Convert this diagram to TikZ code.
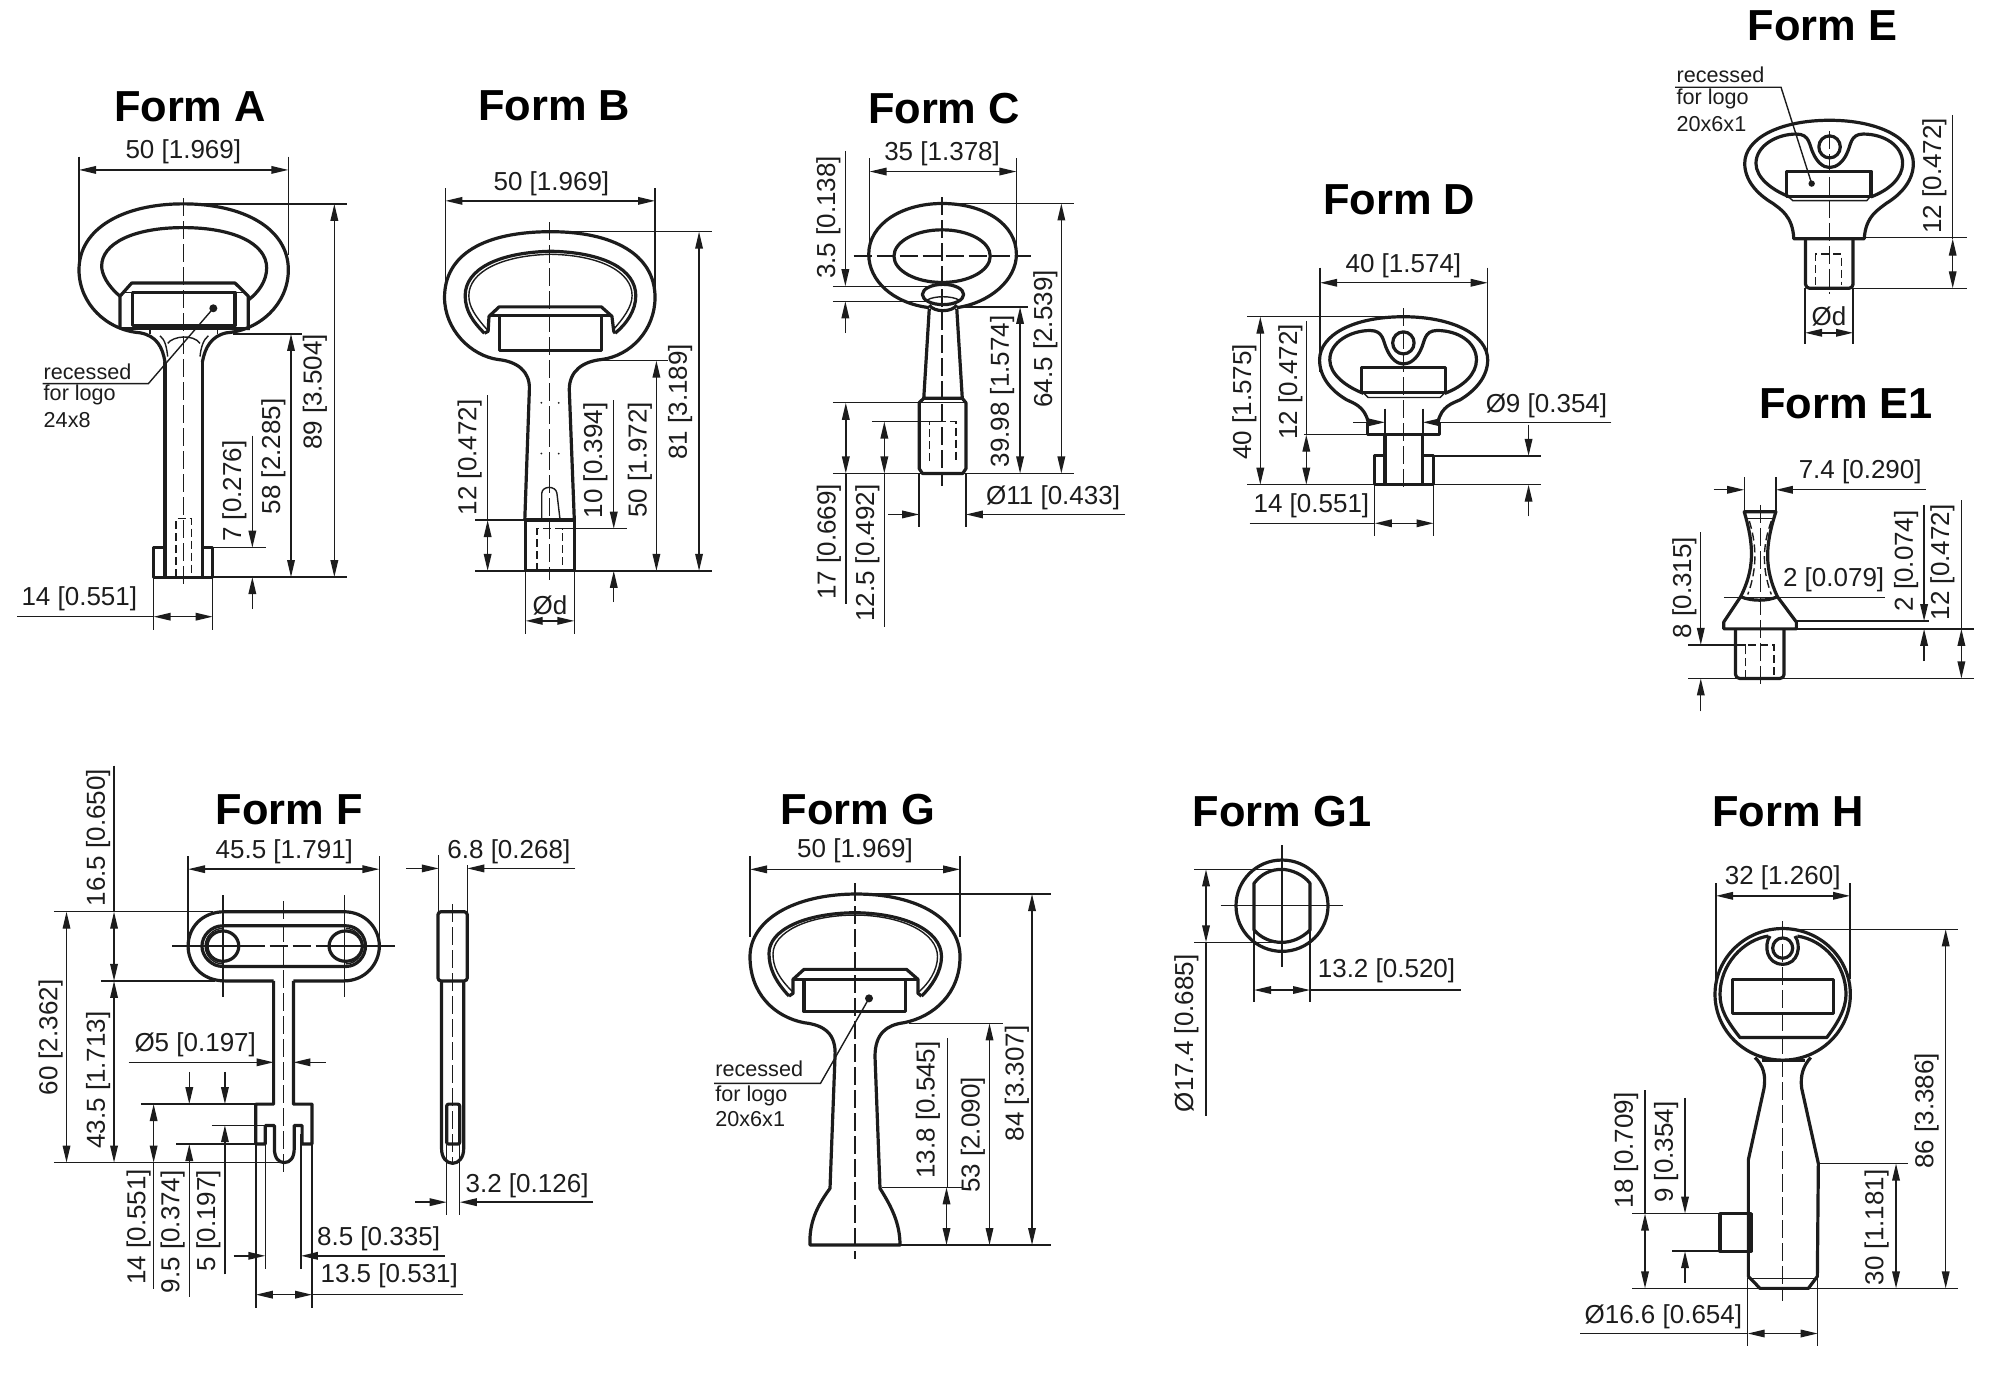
\documentclass[tikz,border=0pt]{standalone}
\usepackage{fontspec}
\setmainfont{Liberation Sans}
\usetikzlibrary{arrows.meta}
\definecolor{inkline}{HTML}{1C1C1C}
\tikzset{
  keyline/.style={line width=1.6pt,draw=inkline,line join=round},
  thinline/.style={line width=0.7pt,draw=inkline},
  dimline/.style={thinline,<->},
  dimend/.style={thinline,->},
  axisline/.style={thinline,dash pattern=on 9pt off 2.5pt},
  hiddenline/.style={thinline,dash pattern=on 4pt off 2pt},
  formtitle/.style={font=\fontsize{21.7}{24}\selectfont\bfseries,text=black,inner sep=0pt},
  dimtext/.style={font=\fontsize{13}{15}\selectfont,text=inkline,inner sep=0pt},
  dimvert/.style={dimtext,rotate=90},
  notetext/.style={font=\fontsize{10.8}{12}\selectfont,text=inkline,inner sep=0pt,anchor=west},
  >={Triangle[length=8.5pt,width=3.8pt]}
}
\begin{document}
\begin{tikzpicture}[x=0.5pt,y=-0.5pt]
\useasboundingbox (0,0) rectangle (2000,1373);

% Form A
\begin{scope}[x=0.16667pt,y=-0.1885pt,shift={(0pt,-35pt)}]
  \node[formtitle] (formA) at (570,98) {Form A};
  \draw[keyline] (495,775) .. controls (488,735) and (470,705) .. (420,697) .. controls (320,690) and (237,620) .. (237,530) .. controls (237,420) and (370,355) .. (550,355) .. controls (730,355) and (865,420) .. (865,530) .. controls (865,620) and (780,690) .. (680,697) .. controls (635,705) and (615,735) .. (607,775);
  \draw[keyline] (360,600) .. controls (320,570) and (305,540) .. (305,520) .. controls (305,460) and (400,418) .. (550,418) .. controls (700,418) and (800,460) .. (800,525) .. controls (800,560) and (775,590) .. (745,610);
  \draw[keyline] (360,685) -- (360,600) -- (395,565) -- (705,565) -- (745,600) -- (745,690);
  \draw[thinline] (370,590) -- (735,590);
  \draw[keyline] (397,590) rectangle (705,678);
  \draw[keyline] (360,685) -- (745,685);
  \draw[thinline] (450,680) -- (450,700) (652,680) -- (652,700);
  \draw[thinline] (503,725) .. controls (520,705) and (580,700) .. (600,725);
  \draw[thinline] (480,705) .. controls (495,715) and (500,735) .. (503,760);
  \draw[thinline] (625,705) .. controls (610,715) and (603,735) .. (600,760);
  \draw[keyline] (495,775) -- (495,1345) (607,775) -- (607,1345);
  \draw[keyline] (495,1267) -- (461,1267) -- (461,1345) -- (638,1345) -- (638,1267) -- (607,1267);
  \draw[hiddenline] (528,1345) -- (528,1190) -- (575,1190) -- (575,1345);
  \draw[axisline] (550,340) -- (550,1365);
  \fill[inkline] (640,632) circle [radius=2pt];
  \draw[thinline] (640,632) -- (445,832) -- (128,832);
  \node[notetext] (noteAa) at (130,800) {recessed};
  \node[notetext] (noteAb) at (130,862) {for logo};
  \node[notetext] (noteAc) at (130,928) {24x8};
  % dimensions
  \draw[thinline] (237,230) -- (237,530) (865,230) -- (865,490);
  \draw[dimline] (237,265) -- (865,265);
  \node[dimtext] (a50) at (550,218) {50 [1.969]};
  \draw[thinline] (550,355) -- (1042,355) (460,1345) -- (1042,1345) (700,700) -- (905,700) (638,1267) -- (797,1267);
  \draw[dimline] (1003,355) -- (1003,1345);
  \node[dimvert] (a89) at (945,854) {89 [3.504]};
  \draw[dimline] (873,700) -- (873,1345);
  \node[dimvert] (a58) at (820,1025) {58 [2.285]};
  \draw[dimend] (757,970) -- (757,1267);
  \draw[dimend] (757,1430) -- (757,1345);
  \node[dimvert] (a7) at (703,1117) {7 [0.276]};
  \draw[thinline] (461,1345) -- (461,1485) (638,1345) -- (638,1485) (52,1450) -- (461,1450);
  \draw[dimline] (461,1450) -- (638,1450);
  \node[dimtext] (a14) at (238,1403) {14 [0.551]};
\end{scope}

% Form B and Form C
\begin{scope}[x=0.2293pt,y=-0.188pt,shift={(214.7pt,-35pt)}]
  \node[formtitle] (formB) at (272,95) {Form B};
  \draw[keyline] (208,1197) -- (218,850) .. controls (220,800) and (190,775) .. (150,770) .. controls (90,760) and (33,690) .. (33,605) .. controls (33,490) and (120,430) .. (265,430) .. controls (400,430) and (492,490) .. (492,605) .. controls (492,690) and (440,760) .. (375,770) .. controls (335,775) and (305,800) .. (305,850) -- (316,1197);
  \draw[keyline] (210,1197) rectangle (316,1332);
  \draw[keyline] (120,700) .. controls (95,670) and (78,640) .. (78,600) .. controls (78,530) and (150,485) .. (265,482) .. controls (380,485) and (450,530) .. (450,600) .. controls (450,640) and (430,675) .. (405,700);
  \draw[thinline] (127,692) .. controls (100,655) and (86,630) .. (86,600) .. controls (86,538) and (155,493) .. (265,490) .. controls (375,493) and (442,538) .. (442,600) .. controls (442,630) and (422,662) .. (400,692);
  \draw[keyline] (120,700) -- (128,695) -- (130,655) -- (152,630) -- (375,630) -- (398,655) -- (402,695) -- (405,700);
  \draw[keyline] (130,652) -- (398,652);
  \draw[keyline] (153,652) rectangle (375,745);
  \draw[thinline] (245,1197) -- (245,1125) .. controls (247,1105) and (275,1105) .. (278,1125) -- (285,1197);
  \draw[hiddenline] (235,1332) -- (235,1220) -- (290,1220) -- (290,1332);
  \draw[axisline] (262,405) -- (262,1355);
  \fill[inkline] (244,885) circle [radius=0.5pt] (282,885) circle [radius=0.5pt] (244,1020) circle [radius=0.5pt] (282,1020) circle [radius=0.5pt];
  % dimensions
  \draw[thinline] (35,315) -- (35,600) (492,315) -- (492,590);
  \draw[dimline] (35,348) -- (492,348);
  \node[dimtext] (b50) at (266,303) {50 [1.969]};
  \draw[thinline] (262,430) -- (617,430) (100,1332) -- (617,1332) (380,773) -- (520,773) (285,1220) -- (430,1220) (100,1197) -- (317,1197) (127,865) -- (127,1197);
  \draw[dimline] (588,430) -- (588,1332);
  \node[dimvert] (b81) at (547,882) {81 [3.189]};
  \draw[dimline] (495,773) -- (495,1332);
  \node[dimvert] (b50b) at (459,1037) {50 [1.972]};
  \draw[dimend] (402,878) -- (402,1220);
  \draw[dimend] (402,1415) -- (402,1332);
  \node[dimvert] (b10) at (362,1038) {10 [0.394]};
  \draw[dimline] (127,1197) -- (127,1332);
  \node[dimvert] (b12) at (88,1030) {12 [0.472]};
  \draw[thinline] (210,1332) -- (210,1500) (316,1332) -- (316,1500);
  \draw[dimline] (210,1465) -- (316,1465);
  \node[dimtext] (bd) at (263,1424) {Ød};

  \node[formtitle] (formC) at (1122,103) {Form C};
  \draw[keyline] (1090,632) .. controls (1010,620) and (958,560) .. (958,490) .. controls (958,410) and (1030,355) .. (1118,355) .. controls (1210,355) and (1280,410) .. (1280,490) .. controls (1280,560) and (1220,620) .. (1150,632);
  \draw[keyline] (1118,495) circle [x radius=105,y radius=70];
  \draw[keyline] (1120,597) circle [x radius=45,y radius=27];
  \draw[thinline] (1085,612) .. controls (1100,600) and (1140,600) .. (1155,612);
  \draw[keyline] (1090,625) .. controls (1100,645) and (1140,645) .. (1150,625);
  \draw[keyline] (1090,635) -- (1078,873) -- (1162,873) -- (1150,635);
  \draw[keyline] (1078,873) -- (1068,885) -- (1068,1060) -- (1075,1073) -- (1163,1073) -- (1170,1060) -- (1170,885) -- (1162,873);
  \draw[thinline] (1070,885) -- (1168,885);
  \draw[hiddenline] (1090,1040) -- (1090,935) -- (1148,935) -- (1148,1040);
  \draw[axisline] (1118,338) -- (1118,1105);
  \draw[axisline] (925,495) -- (1312,495);
  % dimensions
  \draw[thinline] (960,235) -- (960,490) (1280,235) -- (1280,490);
  \draw[dimline] (960,270) -- (1280,270);
  \node[dimtext] (c35) at (1118,224) {35 [1.378]};
  \draw[thinline] (1120,355) -- (1405,355) (880,1073) -- (1405,1073) (1150,630) -- (1305,630) (880,885) -- (1075,885) (965,935) -- (1120,935) (880,575) -- (1085,575) (880,615) -- (1085,615);
  \draw[dimline] (1378,355) -- (1378,1073);
  \node[dimvert] (c64) at (1343,715) {64.5 [2.539]};
  \draw[dimline] (1288,630) -- (1288,1073);
  \node[dimvert] (c39) at (1249,855) {39.98 [1.574]};
  \draw[dimline] (908,885) -- (908,1073);
  \draw[thinline] (908,1073) -- (908,1420) (992,1073) -- (992,1480);
  \node[dimvert] (c17) at (871,1255) {17 [0.669]};
  \draw[dimline] (992,935) -- (992,1073);
  \node[dimvert] (c12) at (955,1285) {12.5 [0.492]};
  \draw[dimend] (907,215) -- (907,575);
  \draw[dimend] (907,700) -- (907,615);
  \node[dimvert] (c3) at (870,392) {3.5 [0.138]};
  \draw[thinline] (1068,1073) -- (1068,1215) (1170,1073) -- (1170,1215);
  \draw[dimend] (1000,1182) -- (1068,1182);
  \draw[dimend] (1517,1182) -- (1170,1182);
  \node[dimtext] (c11) at (1360,1137) {Ø11 [0.433]};
\end{scope}

% Form D, Form E and Form E1
\begin{scope}[x=0.2555pt,y=-0.2295pt,shift={(600pt,0pt)}]
  \node[formtitle] (formD) at (390,436) {Form D};
  \draw[keyline] (329,919) .. controls (322,885) and (300,878) .. (287,871) .. controls (255,850) and (234,820) .. (234,784) .. controls (234,730) and (300,690) .. (398,690) .. controls (495,690) and (563,730) .. (563,784) .. controls (563,820) and (540,850) .. (509,871) .. controls (495,878) and (472,885) .. (466,919);
  \draw[keyline] (320,857) .. controls (285,842) and (254,815) .. (254,784) .. controls (254,745) and (295,720) .. (333,720) .. controls (360,720) and (358,745) .. (366,762) .. controls (373,780) and (385,793) .. (398,793) .. controls (412,793) and (425,780) .. (432,762) .. controls (440,745) and (438,720) .. (464,720) .. controls (505,720) and (541,745) .. (541,784) .. controls (541,815) and (515,842) .. (479,857);
  \draw[keyline] (398,747) circle [x radius=21,y radius=24];
  \draw[keyline] (316,800) rectangle (481,855);
  \draw[thinline] (320,856) -- (329,866) -- (470,866) -- (479,856);
  \draw[keyline] (328,919) -- (328,947) -- (468,947) -- (468,919);
  \draw[keyline] (362,947) -- (362,1056) (436,947) -- (436,1056);
  \draw[keyline] (362,993) -- (342,993) -- (342,1056) -- (457,1056) -- (457,993) -- (436,993);
  \draw[axisline] (398,672) -- (398,1065);
  % dimensions
  \draw[thinline] (235,583) -- (235,810) (563,583) -- (563,780);
  \draw[dimline] (235,616) -- (563,616);
  \node[dimtext] (d40) at (398,578) {40 [1.574]};
  \draw[thinline] (92,690) -- (400,690) (92,1056) -- (667,1056) (203,947) -- (330,947) (208,700) -- (208,947) (457,993) -- (667,993);
  \draw[dimline] (118,690) -- (118,1056);
  \node[dimvert] (d40b) at (87,875) {40 [1.575]};
  \draw[dimline] (208,947) -- (208,1056);
  \node[dimvert] (d12) at (177,832) {12 [0.472]};
  \draw[thinline] (362,890) -- (362,1056) (436,890) -- (436,1056);
  \draw[dimend] (300,920) -- (362,920);
  \draw[dimend] (805,920) -- (436,920);
  \node[dimtext] (d9) at (678,884) {Ø9 [0.354]};
  \draw[dimend] (643,925) -- (643,993);
  \draw[dimend] (643,1125) -- (643,1056);
  \draw[thinline] (342,1056) -- (342,1168) (457,1056) -- (457,1168) (97,1140) -- (342,1140);
  \draw[dimline] (342,1140) -- (457,1140);
  \node[dimtext] (d14) at (218,1102) {14 [0.551]};

  \node[formtitle] (formE) at (1218,57) {Form E};
  \draw[keyline] (1162,520) .. controls (1160,470) and (1135,455) .. (1121,443) .. controls (1089,422) and (1066,392) .. (1066,356) .. controls (1066,302) and (1134,262) .. (1232,262) .. controls (1329,262) and (1396,302) .. (1396,356) .. controls (1396,392) and (1374,422) .. (1343,443) .. controls (1330,455) and (1302,470) .. (1300,520) -- cycle;
  \draw[keyline] (1154,429) .. controls (1119,414) and (1088,387) .. (1088,356) .. controls (1088,317) and (1129,292) .. (1167,292) .. controls (1194,292) and (1192,317) .. (1200,334) .. controls (1207,352) and (1219,365) .. (1232,365) .. controls (1246,365) and (1259,352) .. (1266,334) .. controls (1274,317) and (1272,292) .. (1298,292) .. controls (1339,292) and (1375,317) .. (1375,356) .. controls (1375,387) and (1349,414) .. (1313,429);
  \draw[keyline] (1232,320) circle [x radius=21,y radius=24];
  \draw[keyline] (1148,373) rectangle (1313,428);
  \draw[thinline] (1152,429) -- (1160,437) -- (1305,437) -- (1311,429);
  \draw[keyline,rounded corners=2pt] (1185,520) -- (1185,628) -- (1278,628) -- (1278,520);
  \draw[hiddenline] (1205,620) -- (1205,553) -- (1255,553) -- (1255,620);
  \draw[axisline] (1232,285) -- (1232,640);
  \fill[inkline] (1197,400) circle [radius=1.6pt];
  \draw[thinline] (1197,400) -- (1137,190) -- (930,190);
  \node[notetext] (noteEa) at (932,162) {recessed};
  \node[notetext] (noteEb) at (932,216) {for logo};
  \node[notetext] (noteEc) at (932,270) {20x6x1};
  % dimensions
  \draw[thinline] (1473,250) -- (1473,520) (1300,518) -- (1500,518) (1278,628) -- (1500,628);
  \draw[dimline] (1473,520) -- (1473,628);
  \node[dimvert] (e12) at (1437,383) {12 [0.472]};
  \draw[thinline] (1184,628) -- (1184,750) (1278,628) -- (1278,750);
  \draw[dimline] (1184,725) -- (1278,725);
  \node[dimtext] (ed) at (1231,690) {Ød};

  \node[formtitle] (formEa) at (1264,880) {Form E1};
  \draw[keyline] (1065,1115) .. controls (1085,1190) and (1085,1240) .. (1058,1300) -- (1025,1355) -- (1025,1370) -- (1167,1370) -- (1167,1355) -- (1130,1300) .. controls (1105,1240) and (1105,1190) .. (1127,1115) -- cycle;
  \draw[keyline,rounded corners=2pt] (1048,1370) -- (1048,1478) -- (1143,1478) -- (1143,1370);
  \draw[thinline] (1070,1130) -- (1122,1130);
  \draw[keyline] (1058,1300) .. controls (1080,1310) and (1110,1310) .. (1130,1300);
  \draw[hiddenline] (1075,1135) .. controls (1090,1190) and (1090,1240) .. (1072,1295);
  \draw[hiddenline] (1118,1135) .. controls (1100,1190) and (1100,1240) .. (1118,1295);
  \draw[hiddenline] (1068,1478) -- (1068,1405) -- (1123,1405) -- (1123,1478);
  \draw[axisline] (1097,1100) -- (1097,1490);
  % dimensions
  \draw[thinline] (1065,1040) -- (1065,1115) (1127,1040) -- (1127,1115);
  \draw[dimend] (1005,1067) -- (1065,1067);
  \draw[dimend] (1420,1067) -- (1127,1067);
  \node[dimtext] (ea7) at (1292,1028) {7.4 [0.290]};
  \draw[thinline] (1025,1302) -- (1340,1302);
  \node[dimtext] (ea2) at (1240,1263) {2 [0.079]};
  \draw[thinline] (1167,1353) -- (1427,1353) (1167,1370) -- (1515,1370) (955,1478) -- (1515,1478) (955,1405) -- (1068,1405) (1490,1090) -- (1490,1370);
  \draw[dimend] (1417,1100) -- (1417,1353);
  \draw[dimend] (1417,1440) -- (1417,1370);
  \node[dimvert] (ea2b) at (1382,1222) {2 [0.074]};
  \draw[dimline] (1490,1370) -- (1490,1478);
  \node[dimvert] (ea12) at (1453,1225) {12 [0.472]};
  \draw[dimend] (980,1160) -- (980,1405);
  \draw[dimend] (980,1550) -- (980,1478);
  \node[dimvert] (ea8) at (948,1280) {8 [0.315]};
\end{scope}

% Form F
\begin{scope}[x=0.198pt,y=-0.185pt,shift={(-0.4pt,-380pt)}]
  \node[formtitle] (formF) at (732,135) {Form F};
  \draw[keyline] (693,597) -- (570,597) .. controls (510,597) and (477,550) .. (477,503) .. controls (477,455) and (510,410) .. (570,410) -- (870,410) .. controls (925,410) and (960,455) .. (960,503) .. controls (960,550) and (925,597) .. (870,597) -- (743,597);
  \draw[keyline] (565,448) -- (875,448) .. controls (905,448) and (925,475) .. (925,503) .. controls (925,530) and (905,558) .. (875,558) -- (565,558) .. controls (535,558) and (512,530) .. (512,503) .. controls (512,475) and (535,448) .. cycle;
  \draw[thinline] (565,455) .. controls (540,455) and (520,478) .. (520,503) .. controls (520,528) and (540,551) .. (565,551);
  \draw[thinline] (875,455) .. controls (900,455) and (918,478) .. (918,503) .. controls (918,528) and (900,551) .. (875,551);
  \draw[keyline] (565,503) circle [x radius=40,y radius=41];
  \draw[keyline] (875,503) circle [x radius=42,y radius=41];
  \draw[keyline] (693,597) -- (693,930) -- (648,930) -- (648,1038) -- (672,1038) -- (672,988) -- (695,988) -- (695,1050) .. controls (695,1075) and (705,1088) .. (720,1088) .. controls (735,1088) and (745,1075) .. (745,1050) -- (745,988) -- (765,988) -- (765,1038) -- (790,1038) -- (790,930) -- (743,930) -- (743,597);
  \draw[axisline] (718,382) -- (718,1125);
  \draw[axisline] (625,503) -- (830,503);
  \draw[thinline] (437,503) -- (625,503) (830,503) -- (1000,503) (565,365) -- (565,640) (872,365) -- (872,640);
  \draw[keyline,rounded corners=1.5pt] (1108,410) rectangle (1182,597);
  \draw[keyline] (1117,597) -- (1117,1050) .. controls (1117,1075) and (1130,1090) .. (1145,1090) .. controls (1160,1090) and (1173,1075) .. (1173,1050) -- (1173,597);
  \draw[keyline,rounded corners=1pt] (1130,930) rectangle (1163,1038);
  \draw[axisline] (1145,390) -- (1145,1095);
  % dimensions
  \draw[thinline] (477,260) -- (477,505) (960,260) -- (960,505);
  \draw[dimline] (477,295) -- (960,295);
  \node[dimtext] (f45) at (720,248) {45.5 [1.791]};
  \draw[thinline] (1110,258) -- (1110,410) (1182,285) -- (1182,410);
  \draw[dimend] (1028,293) -- (1110,293);
  \draw[dimend] (1455,293) -- (1182,293);
  \node[dimtext] (f6) at (1287,248) {6.8 [0.268]};
  \draw[thinline] (138,410) -- (540,410) (138,1088) -- (715,1088) (257,597) -- (545,597) (290,15) -- (290,410);
  \draw[dimline] (170,410) -- (170,1088);
  \node[dimvert] (f60) at (130,750) {60 [2.362]};
  \draw[dimline] (290,410) -- (290,597);
  \node[dimvert] (f16) at (250,210) {16.5 [0.650]};
  \draw[dimline] (290,597) -- (290,1088);
  \node[dimvert] (f43) at (250,865) {43.5 [1.713]};
  \draw[dimend] (327,817) -- (693,817);
  \draw[dimend] (825,817) -- (743,817);
  \node[dimtext] (f5) at (495,770) {Ø5 [0.197]};
  \draw[thinline] (358,930) -- (650,930) (447,1038) -- (650,1038) (537,987) -- (670,987) (390,1088) -- (390,1430);
  \draw[dimline] (390,930) -- (390,1088);
  \node[dimvert] (f14) at (352,1262) {14 [0.551]};
  \draw[dimend] (480,843) -- (480,930);
  \draw[dimend] (480,1450) -- (480,1038);
  \node[dimvert] (f9) at (438,1275) {9.5 [0.374]};
  \draw[dimend] (570,843) -- (570,930);
  \draw[dimend] (570,1390) -- (570,987);
  \node[dimvert] (f5b) at (528,1245) {5 [0.197]};
  \draw[thinline] (672,1010) -- (672,1375) (762,1010) -- (762,1375) (648,1038) -- (648,1480) (790,1038) -- (790,1480) (790,1445) -- (1170,1445);
  \draw[dimend] (592,1340) -- (672,1340);
  \draw[dimend] (1125,1340) -- (762,1340);
  \node[dimtext] (f8) at (958,1293) {8.5 [0.335]};
  \draw[dimline] (648,1445) -- (790,1445);
  \node[dimtext] (f13) at (985,1395) {13.5 [0.531]};
  \draw[thinline] (1130,1040) -- (1130,1230) (1163,1040) -- (1163,1230);
  \draw[dimend] (1050,1195) -- (1130,1195);
  \draw[dimend] (1500,1195) -- (1163,1195);
  \node[dimtext] (f3) at (1333,1150) {3.2 [0.126]};
\end{scope}

% Form G and Form G1
\begin{scope}[x=0.25pt,y=-0.16667pt,shift={(349.5pt,-390pt)}]
  \node[formtitle] (formG) at (318,90) {Form G};
  \draw[keyline] (222,1395) -- (402,1395) .. controls (402,1330) and (385,1280) .. (362,1225) -- (352,830) .. controls (352,760) and (375,735) .. (410,728) .. controls (470,710) and (522,640) .. (522,530) .. controls (522,420) and (440,342) .. (315,342) .. controls (190,342) and (102,420) .. (102,530) .. controls (102,640) and (150,710) .. (210,728) .. controls (250,735) and (275,760) .. (272,830) -- (262,1225) .. controls (235,1280) and (220,1330) .. cycle;
  \draw[keyline] (180,648) .. controls (150,600) and (140,560) .. (140,520) .. controls (140,450) and (210,400) .. (312,398) .. controls (410,400) and (485,450) .. (485,530) .. controls (485,575) and (465,620) .. (445,648);
  \draw[thinline] (187,635) .. controls (158,592) and (148,560) .. (148,522) .. controls (148,458) and (214,406) .. (312,405) .. controls (406,406) and (477,458) .. (477,530) .. controls (477,572) and (458,612) .. (440,635);
  \draw[keyline] (180,648) -- (188,640) -- (188,598) -- (210,568) -- (415,568) -- (438,598) -- (438,640) -- (445,648);
  \draw[keyline] (188,598) -- (438,598);
  \draw[keyline] (210,598) rectangle (413,695);
  \draw[axisline] (312,310) -- (312,1438);
  \fill[inkline] (340,655) circle [radius=2pt];
  \draw[thinline] (340,655) -- (243,910) -- (30,910);
  \node[notetext] (noteGa) at (32,866) {recessed};
  \node[notetext] (noteGb) at (32,949) {for logo};
  \node[notetext] (noteGc) at (32,1018) {20x6x1};
  % dimensions
  \draw[thinline] (102,228) -- (102,470) (522,228) -- (522,470);
  \draw[dimline] (102,268) -- (522,268);
  \node[dimtext] (g50) at (312,213) {50 [1.969]};
  \draw[thinline] (310,342) -- (703,342) (220,1395) -- (703,1395) (420,730) -- (607,730) (365,1222) -- (525,1222) (497,775) -- (497,1222);
  \draw[dimline] (666,342) -- (666,1395);
  \node[dimvert] (g84) at (636,910) {84 [3.307]};
  \draw[dimline] (581,730) -- (581,1395);
  \node[dimvert] (g53) at (548,1065) {53 [2.090]};
  \draw[dimline] (495,1222) -- (495,1395);
  \node[dimvert] (g13) at (458,990) {13.8 [0.545]};

  \node[formtitle] (formGa) at (1166,95) {Form G1};
  \draw[keyline] (1166,377) circle [x radius=92,y radius=137];
  \draw[keyline] (1110,310) .. controls (1125,280) and (1145,268) .. (1165,268) .. controls (1185,268) and (1210,285) .. (1222,310) -- (1222,450) .. controls (1205,475) and (1185,487) .. (1165,487) .. controls (1145,487) and (1125,475) .. (1110,450) -- cycle;
  \draw[thinline] (1166,195) -- (1166,560) (1043,377) -- (1288,377);
  % dimensions
  \draw[thinline] (990,268) -- (1165,268) (990,487) -- (1165,487) (1014,487) -- (1014,1008);
  \draw[dimline] (1014,268) -- (1014,487);
  \node[dimvert] (ga17) at (975,760) {Ø17.4 [0.685]};
  \draw[thinline] (1110,450) -- (1110,667) (1222,450) -- (1222,667) (1222,630) -- (1523,630);
  \draw[dimline] (1110,630) -- (1222,630);
  \node[dimtext] (ga13) at (1375,572) {13.2 [0.520]};
\end{scope}

% Form H
\begin{scope}[x=0.16667pt,y=-0.188pt,shift={(780pt,-390pt)}]
  \node[formtitle] (formH) at (684,84) {Form H};
  \draw[keyline] (668,570) circle [x radius=203,y radius=175];
  \draw[keyline] (585,738) .. controls (610,760) and (618,785) .. (612,820) -- (565,1010) -- (565,1320) -- (600,1352) -- (745,1352) -- (772,1320) -- (775,1020) -- (725,820) .. controls (720,785) and (730,760) .. (752,738);
  \draw[thinline] (565,1325) -- (772,1325);
  \draw[keyline] (605,745) -- (735,745);
  \draw[keyline] (625,415) .. controls (550,425) and (480,490) .. (480,570) .. controls (480,610) and (500,640) .. (540,685) -- (800,685) .. controls (830,650) and (858,610) .. (858,570) .. controls (858,490) and (790,425) .. (712,415);
  \draw[keyline] (668,447) circle [x radius=30,y radius=27];
  \draw[keyline] (630,415) .. controls (610,440) and (620,490) .. (668,490) .. controls (715,490) and (725,440) .. (705,415);
  \draw[keyline] (517,530) rectangle (820,620);
  \draw[keyline] (573,1153) -- (480,1153) -- (480,1253) -- (573,1253) -- cycle;
  \draw[axisline] (668,375) -- (668,1385);
  % dimensions
  \draw[thinline] (468,275) -- (468,530) (870,275) -- (870,530);
  \draw[dimline] (468,308) -- (870,308);
  \node[dimtext] (h32) at (668,260) {32 [1.260]};
  \draw[thinline] (668,397) -- (1195,397) (217,1352) -- (1195,1352) (778,1020) -- (1045,1020) (217,1153) -- (480,1153) (337,1253) -- (480,1253) (255,825) -- (255,1153);
  \draw[dimline] (1157,397) -- (1157,1352);
  \node[dimvert] (h86) at (1100,880) {86 [3.386]};
  \draw[dimline] (1008,1020) -- (1008,1352);
  \node[dimvert] (h30) at (950,1190) {30 [1.181]};
  \draw[dimline] (255,1153) -- (255,1352);
  \node[dimvert] (h18) at (198,985) {18 [0.709]};
  \draw[dimend] (375,845) -- (375,1153);
  \draw[dimend] (375,1338) -- (375,1253);
  \node[dimvert] (h9) at (318,990) {9 [0.354]};
  \draw[thinline] (563,1325) -- (563,1505) (773,1325) -- (773,1505) (60,1472) -- (563,1472);
  \draw[dimline] (563,1472) -- (773,1472);
  \node[dimtext] (h16) at (310,1428) {Ø16.6 [0.654]};
\end{scope}
\end{tikzpicture}
\end{document}
